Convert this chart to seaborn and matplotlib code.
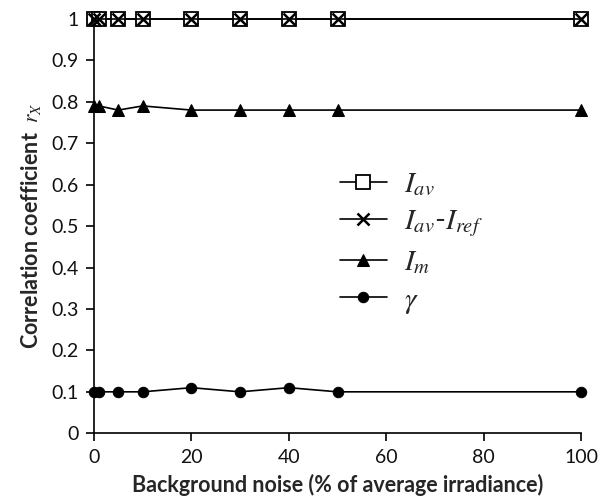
import matplotlib
matplotlib.use("Agg")
import matplotlib.pyplot as plt
import seaborn as sns

noise = [0, 1, 5, 10, 20, 30, 40, 50, 100]
r_iav = [1, 1, 1, 1, 1, 1, 1, 1, 1]
r_iav_iref = [1, 1, 1, 1, 1, 1, 1, 1, 1]
r_im = [0.79, 0.79, 0.78, 0.79, 0.78, 0.78, 0.78, 0.78, 0.78]
r_gamma = [0.10, 0.10, 0.10, 0.10, 0.11, 0.10, 0.11, 0.10, 0.10]

sns.set_theme(style="ticks")
plt.rcParams["font.family"] = ["Lato", "DejaVu Sans"]
plt.rcParams["mathtext.fontset"] = "stix"

fig = plt.figure(figsize=(6.06, 4.98), dpi=100)
ax = fig.add_axes([0.155, 0.130, 0.804, 0.832])

common = dict(color="black", linewidth=1.2, clip_on=False, ax=ax)
sns.lineplot(x=noise, y=r_iav, marker="s", markersize=9.5, markerfacecolor="white",
             markeredgecolor="black", markeredgewidth=1.3, label=r"$I_{av}$", **common)
sns.lineplot(x=noise, y=r_iav_iref, marker="x", markersize=8, markeredgecolor="black",
             markeredgewidth=1.8, label=r"$I_{av}$-$I_{ref}$", **common)
sns.lineplot(x=noise, y=r_im, marker="^", markersize=8, markerfacecolor="black",
             markeredgecolor="black", label=r"$I_m$", **common)
sns.lineplot(x=noise, y=r_gamma, marker="o", markersize=7.5, markerfacecolor="black",
             markeredgecolor="black", label=r"$\gamma$", **common)

ax.set_xlim(0, 100)
ax.set_ylim(0, 1)
ax.set_xticks([0, 20, 40, 60, 80, 100])
ax.set_yticks([0, 0.1, 0.2, 0.3, 0.4, 0.5, 0.6, 0.7, 0.8, 0.9, 1])
ax.set_yticklabels(["0", "0.1", "0.2", "0.3", "0.4", "0.5", "0.6", "0.7", "0.8", "0.9", "1"])
ax.tick_params(axis="both", labelsize=14, length=6, width=1.2, color="black",
               labelcolor="#111111", pad=5)
for s in ["left", "bottom"]:
    ax.spines[s].set_linewidth(1.2)
    ax.spines[s].set_color("black")
sns.despine(ax=ax)

ax.set_xlabel("Background noise (% of average irradiance)", fontsize=15.5, fontweight="bold",
              labelpad=6)
ax.set_ylabel(r"Correlation coefficient  $r_X$", fontsize=15.5, fontweight="bold", labelpad=6)

ax.legend(loc="center left", bbox_to_anchor=(0.505, 0.458), frameon=False, fontsize=21,
          handlelength=1.6, labelspacing=0.35, handletextpad=0.6, borderpad=0,
          borderaxespad=0)

fig.savefig("out.png", dpi=100)
